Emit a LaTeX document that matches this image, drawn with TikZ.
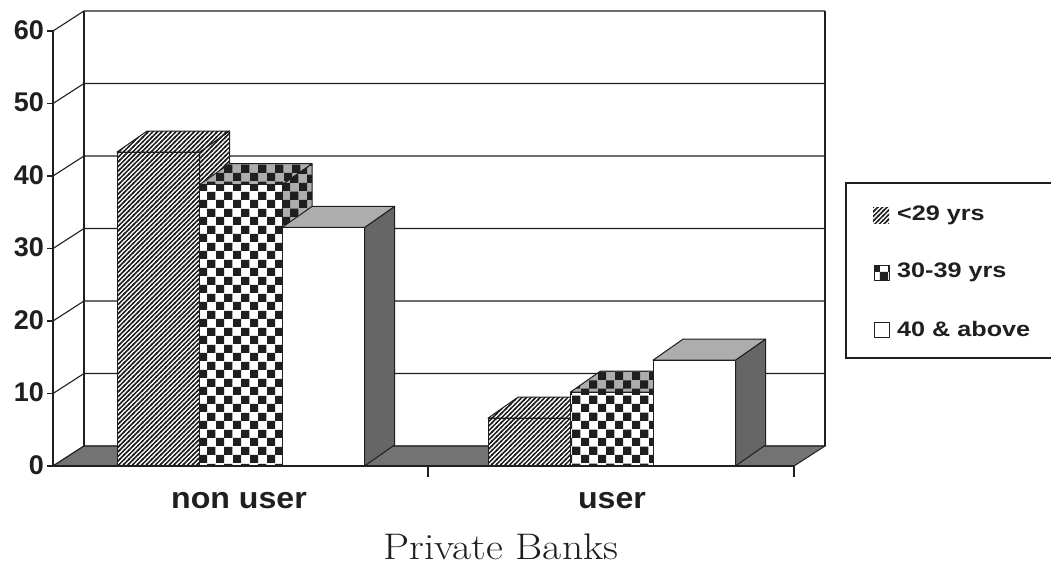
\documentclass[tikz,border=0pt]{standalone}
\usepackage{fontspec}
\newfontfamily\chartfont{Liberation Sans}
\newfontfamily\catfont[FakeStretch=1.07]{Liberation Sans}
\newfontfamily\legendfont[FakeStretch=1.2]{Liberation Sans}
\newfontfamily\titlefont[FakeStretch=1.12]{Latin Modern Roman}
\usetikzlibrary{patterns}

% fill patterns of the age groups
\pgfdeclarepatternformonly{agehatch}{\pgfqpoint{-1pt}{-1pt}}{\pgfqpoint{5.6pt}{5.6pt}}{\pgfqpoint{4.6pt}{4.6pt}}{%
  \pgfsetlinewidth{1.5pt}%
  \pgfpathmoveto{\pgfqpoint{-1pt}{-1pt}}%
  \pgfpathlineto{\pgfqpoint{5.6pt}{5.6pt}}%
  \pgfusepath{stroke}}
\pgfdeclarepatternformonly{agechecks}{\pgfqpoint{0pt}{0pt}}{\pgfqpoint{16.6pt}{16.6pt}}{\pgfqpoint{16.6pt}{16.6pt}}{%
  \pgfpathrectangle{\pgfqpoint{0pt}{0pt}}{\pgfqpoint{8.3pt}{8.3pt}}%
  \pgfpathrectangle{\pgfqpoint{8.3pt}{8.3pt}}{\pgfqpoint{8.3pt}{8.3pt}}%
  \pgfusepath{fill}}

\definecolor{inkgray}{gray}{0.12}
\definecolor{floorgray}{gray}{0.45}
\definecolor{sidegray}{gray}{0.40}
\definecolor{topgray}{gray}{0.68}

\tikzset{
  gridline/.style={draw=inkgray, line width=1.1pt},
  axisline/.style={draw=inkgray, line width=1.4pt},
  barface/.style={draw=inkgray, line width=1pt, line join=round, pattern color=inkgray},
  hatch-front/.style={barface, preaction={fill=white}, pattern=agehatch},
  hatch-top/.style={hatch-front},
  hatch-side/.style={hatch-front},
  checks-front/.style={barface, preaction={fill=white}, pattern=agechecks},
  checks-top/.style={barface, preaction={fill=topgray}, pattern=agechecks},
  checks-side/.style={checks-top},
  plain-front/.style={barface, fill=white},
  plain-top/.style={barface, fill=topgray},
  plain-side/.style={barface, fill=sidegray},
  ticklabel/.style={font={\chartfont\bfseries\fontsize{27}{30}\selectfont}, text=inkgray, anchor=east, inner sep=0pt},
  catlabel/.style={font={\catfont\bfseries\fontsize{30}{34}\selectfont}, text=inkgray, inner sep=0pt},
  legendtext/.style={font={\legendfont\bfseries\fontsize{21}{25}\selectfont}, text=inkgray, anchor=west, inner sep=0pt},
}

\begin{document}
\begin{tikzpicture}[x=1pt,y=-1pt]
  \useasboundingbox[fill=white] (0,0) rectangle (1051,579);

  % walls and grid
  \foreach \v in {0,10,...,60} {
    \pgfmathsetmacro\yf{466-7.25*\v}
    \pgfmathsetmacro\yb{446-7.25*\v}
    \draw[gridline] (53,\yf) -- (84,\yb) -- (825,\yb);
    \draw[gridline] (47,\yf) -- (53,\yf);
    \node[ticklabel] (tick\v) at (44,\yf-1) {\v};
  }
  \draw[gridline] (84,11) -- (84,446);
  \draw[gridline] (825,11) -- (825,446);

  % floor
  \filldraw[fill=floorgray, draw=inkgray, line width=1pt] (53,466) -- (794,466) -- (825,446) -- (84,446) -- cycle;

  % bars
  \foreach \xa/\val/\kind in {117/43.3/hatch, 199.5/38.8/checks, 282/32.9/plain,
                              488/6.6/hatch, 570.5/10.2/checks, 653/14.6/plain} {
    \pgfmathsetmacro\ytop{466-7.25*\val}
    \pgfmathsetmacro\xb{\xa+82.5}
    \path[\kind-side] (\xb,466) -- (\xb+30,445) -- (\xb+30,\ytop-21) -- (\xb,\ytop) -- cycle;
    \path[\kind-top] (\xa,\ytop) -- (\xb,\ytop) -- (\xb+30,\ytop-21) -- (\xa+30,\ytop-21) -- cycle;
    \path[\kind-front] (\xa,466) rectangle (\xb,\ytop);
  }

  % axes
  \draw[axisline] (53,31) -- (53,466) -- (794,466);
  \draw[axisline] (428,466) -- (428,477);
  \draw[axisline] (794,466) -- (794,477);

  \node[catlabel] (nonuser) at (239,501) {non user};
  \node[catlabel] (user) at (612,501) {user};
  \node[font={\titlefont\fontsize{37}{40}\selectfont}, text=inkgray] (banks) at (501,547) {Private Banks};

  % legend
  \draw[draw=inkgray, line width=1.2pt] (1053,183) -- (846,183) -- (846,358) -- (1053,358);
  \path[hatch-front, draw=none] (873,207) rectangle (889,223);
  \path[checks-front] (874,265) rectangle (889,280);
  \path[plain-front] (874,322) rectangle (889,337);
  \node[legendtext] (young) at (897,215) {<29 yrs};
  \node[legendtext] (middle) at (897,272) {30-39 yrs};
  \node[legendtext] (older) at (897,329) {40 \& above};
\end{tikzpicture}
\end{document}
